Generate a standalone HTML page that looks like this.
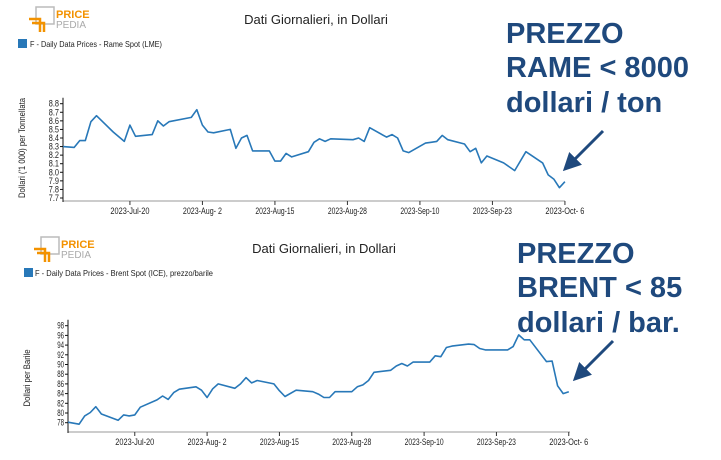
<!DOCTYPE html>
<html><head><meta charset="utf-8"><style>
body{margin:0;background:#fff;width:721px;height:460px;overflow:hidden}
svg{display:block;font-family:"Liberation Sans Narrow","Liberation Sans",sans-serif}
.tk{font-size:9px;fill:#222}
.ann{font-family:"Liberation Sans",sans-serif;font-weight:bold;font-size:29px;fill:#1f497d}
</style></head><body>
<svg id="c" width="721" height="460" viewBox="0 0 721 460">
<defs><marker id="ah" markerWidth="6" markerHeight="6" refX="5" refY="3" orient="auto" markerUnits="strokeWidth"><path d="M0,0 L6,3 L0,6 z" fill="#1f497d"/></marker></defs>
<g>
<rect x="36" y="7" width="18" height="17" fill="none" stroke="#bbb" stroke-width="1.5"/>
<path d="M29,19 H40 V32 M32,23 H44 V32" fill="none" stroke="#f39200" stroke-width="2.5"/>
<text x="56" y="18" font-size="11" font-weight="bold" fill="#f39200" font-family="Liberation Sans">PRICE</text>
<text x="56" y="28" font-size="10" fill="#aaa" font-family="Liberation Sans">PEDIA</text></g>
<g>
<rect x="41" y="237" width="18" height="17" fill="none" stroke="#bbb" stroke-width="1.5"/>
<path d="M34,249 H45 V262 M37,253 H49 V262" fill="none" stroke="#f39200" stroke-width="2.5"/>
<text x="61" y="248" font-size="11" font-weight="bold" fill="#f39200" font-family="Liberation Sans">PRICE</text>
<text x="61" y="258" font-size="10" fill="#aaa" font-family="Liberation Sans">PEDIA</text></g>
<text x="316" y="24" font-size="13" text-anchor="middle" fill="#222">Dati Giornalieri, in Dollari</text>
<text x="324" y="253" font-size="13" text-anchor="middle" fill="#222">Dati Giornalieri, in Dollari</text>
<g><rect x="18" y="39" width="9" height="9" fill="#2878b8"/><text x="30" y="47" font-size="8.5" fill="#222" textLength="132" lengthAdjust="spacingAndGlyphs">F - Daily Data Prices - Rame Spot (LME)</text></g>
<g><rect x="24" y="268" width="9" height="9" fill="#2878b8"/><text x="35" y="276" font-size="8.5" fill="#222" textLength="178" lengthAdjust="spacingAndGlyphs">F - Daily Data Prices - Brent Spot (ICE), prezzo/barile</text></g>
<text x="25" y="148" class="tk" transform="rotate(-90 25 148)" text-anchor="middle" textLength="100" lengthAdjust="spacingAndGlyphs">Dollari ('1 000) per Tonnellata</text>
<text x="30" y="378" class="tk" transform="rotate(-90 30 378)" text-anchor="middle" textLength="57" lengthAdjust="spacingAndGlyphs">Dollari per Barile</text>
<g>
<text class="ann" x="506" y="43">PREZZO</text><text class="ann" x="506" y="77">RAME &lt; 8000</text><text class="ann" x="506" y="112">dollari / ton</text>
<line x1="603" y1="131" x2="565" y2="169" stroke="#1f497d" stroke-width="3" marker-end="url(#ah)"/></g>
<g>
<text class="ann" x="517" y="263">PREZZO</text><text class="ann" x="517" y="297">BRENT &lt; 85</text><text class="ann" x="517" y="332">dollari / bar.</text>
<line x1="613" y1="341" x2="575" y2="379" stroke="#1f497d" stroke-width="3" marker-end="url(#ah)"/></g>
<g id="top"></g>
<g id="bot"></g>
</svg>
<script>
const xTickLabels=["2023-Jul-20","2023-Aug- 2","2023-Aug-15","2023-Aug-28","2023-Sep-10","2023-Sep-23","2023-Oct- 6"];
const xTickDays=[0,13,26,39,52,65,78];
const copperDays=[-12,-10,-9,-8,-7,-6,-3,-1,0,1,4,5,6,7,11,12,13,14,15,18,19,20,21,22,25,26,27,28,29,32,33,34,35,36,40,41,42,43,46,47,48,49,50,53,54,55,56,57,60,61,62,63,64,67,69,71,74,75,76,77,78];
const copperValues=[8.30,8.29,8.37,8.37,8.59,8.66,8.47,8.36,8.55,8.42,8.44,8.60,8.54,8.59,8.64,8.73,8.55,8.47,8.46,8.50,8.28,8.40,8.43,8.25,8.25,8.13,8.13,8.22,8.18,8.24,8.35,8.39,8.36,8.39,8.38,8.40,8.36,8.52,8.41,8.44,8.40,8.25,8.23,8.34,8.35,8.36,8.43,8.38,8.33,8.24,8.28,8.11,8.19,8.11,8.02,8.24,8.11,7.97,7.92,7.82,7.89];
const copperTicks=[7.7,7.8,7.9,8.0,8.1,8.2,8.3,8.4,8.5,8.6,8.7,8.8];
const brentDays=[-12,-10,-9,-8,-7,-6,-3,-2,-1,0,1,4,5,6,7,8,11,12,13,14,15,18,19,20,21,22,25,26,27,29,32,33,34,35,36,39,40,41,42,43,46,47,48,49,50,53,54,55,56,57,60,61,62,63,67,68,69,70,71,74,75,76,77,78];
const brentValues=[78.1,77.7,79.4,80.1,81.3,79.8,78.5,79.6,79.4,79.6,81.2,82.7,83.5,82.8,84.2,84.9,85.4,84.7,83.2,85.0,86.0,85.1,86.0,87.3,86.2,86.7,86.0,84.6,83.4,84.7,84.4,83.9,83.2,83.2,84.4,84.4,85.4,85.8,86.7,88.4,88.8,89.7,90.2,89.7,90.5,90.5,91.8,91.6,93.5,93.8,94.2,94.1,93.3,93.0,93.0,93.7,96.1,95.1,95.1,90.6,90.7,85.6,84.0,84.4];
const brentTicks=[78,80,82,84,86,88,90,92,94,96,98];
const NS="http://www.w3.org/2000/svg";
function mk(p,t,a){const e=document.createElementNS(NS,t);for(const k in a)e.setAttribute(k,a[k]);p.appendChild(e);return e;}
function draw(g,cfg,days,vals,ticks,nm){
 const xs=d=>cfg.x0+(d-cfg.dmin)*cfg.px;
 const ys=v=>cfg.yb-(v-cfg.vmin)/(cfg.vmax-cfg.vmin)*(cfg.yb-cfg.yt);
 const xa=mk(g,'line',{x1:cfg.x0,x2:cfg.x1,y1:cfg.ax,y2:cfg.ax,stroke:'#ccc','stroke-width':2});
 
 
 const ya=mk(g,'line',{x1:cfg.x0,x2:cfg.x0,y1:cfg.yt-6,y2:cfg.ax+1,stroke:'#111','stroke-width':1});
 
 
 ticks.forEach(v=>{const y=ys(v);mk(g,'line',{x1:cfg.x0-3,x2:cfg.x0,y1:y,y2:y,stroke:'#111'});
  const s=cfg.fmt(v);
  const t=mk(g,'text',{x:cfg.x0-4,y:y+3,'text-anchor':'end',class:'tk',textLength:s.length*3.4,lengthAdjust:'spacingAndGlyphs'});t.textContent=s;
  
  });
 xTickDays.forEach((d,i)=>{const x=xs(d);mk(g,'line',{x1:x,x2:x,y1:cfg.ax,y2:cfg.ax+4,stroke:'#333'});
  const t=mk(g,'text',{x:x,y:cfg.ax+13,'text-anchor':'middle',class:'tk',textLength:39,lengthAdjust:'spacingAndGlyphs'});t.textContent=xTickLabels[i];
  
  });
 const pts=days.map((d,i)=>xs(d).toFixed(1)+','+ys(vals[i]).toFixed(1)).join(' ');
 const l=mk(g,'polyline',{points:pts,fill:'none',stroke:'#2878b8','stroke-width':1.6,'stroke-linejoin':'round'});
 
 
}
draw(document.getElementById('top'),{x0:63,x1:565,dmin:-12,px:5.577,yt:103.7,yb:198,vmin:7.7,vmax:8.8,ax:201,fmt:v=>v.toFixed(1)},copperDays,copperValues,copperTicks,'copper');
draw(document.getElementById('bot'),{x0:68,x1:570,dmin:-12,px:5.564,yt:325.7,yb:422.7,vmin:78,vmax:98,ax:432,fmt:v=>String(v)},brentDays,brentValues,brentTicks,'brent');
</script>
</body></html>
